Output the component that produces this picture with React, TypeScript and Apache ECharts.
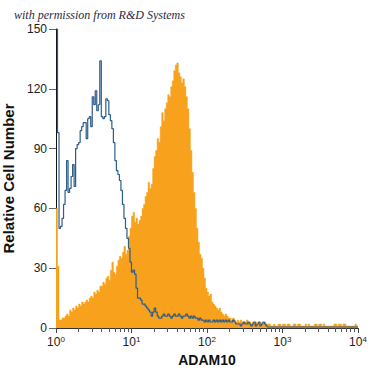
import React, { useEffect, useRef } from "react";
import * as echarts from "echarts";

// Histogram bins: log10(fluorescence) from 0 to 4, bin width 0.02 decades (200 bins)
const BIN_WIDTH = 0.02;

// ADAM10 stained cells (orange filled histogram), counts per bin
const adam10Counts = [
  60, 31, 4, 4, 5, 5, 6, 7, 6, 9,
  8, 10, 9, 11, 10, 12, 11, 13, 12, 13,
  14, 13, 15, 16, 15, 18, 17, 19, 18, 21,
  21, 23, 22, 25, 26, 24, 29, 33, 28, 27,
  31, 34, 36, 35, 38, 41, 37, 39, 46, 50,
  56, 58, 53, 55, 52, 54, 56, 60, 62, 66,
  68, 73, 70, 72, 80, 86, 89, 95, 93, 101,
  108, 104, 110, 113, 117, 116, 121, 124, 129, 132,
  133, 128, 126, 123, 125, 121, 116, 110, 100, 89,
  78, 68, 60, 50, 43, 37, 35, 30, 25, 20,
  18, 16, 17, 13, 12, 11, 10, 9, 10, 8,
  7, 6, 7, 6, 5, 5, 4, 5, 4, 3,
  4, 3, 4, 3, 3, 3, 4, 3, 3, 2,
  3, 2, 3, 2, 2, 3, 2, 2, 3, 2,
  2, 2, 1, 1, 2, 1, 1, 2, 2, 1,
  2, 2, 1, 2, 2, 1, 1, 2, 2, 1,
  2, 2, 1, 1, 1, 2, 1, 2, 1, 1,
  1, 2, 2, 1, 2, 2, 1, 2, 1, 1,
  1, 1, 1, 1, 2, 2, 1, 2, 2, 1,
  2, 2, 1, 1, 1, 1, 1, 1, 2, 1,
];

// Isotype control (blue outline histogram), counts per bin
const controlCounts = [
  150, 98, 50, 51, 55, 62, 69, 84, 68, 70,
  76, 82, 71, 90, 92, 93, 99, 101, 103, 103,
  95, 105, 106, 101, 116, 112, 119, 109, 112, 134,
  106, 105, 106, 115, 114, 107, 104, 100, 93, 84,
  79, 77, 74, 69, 62, 55, 50, 45, 40, 33,
  28, 29, 27, 20, 15, 15, 14, 12, 12, 11,
  10, 9, 8, 6, 8, 10, 8, 6, 5, 5,
  6, 7, 6, 6, 7, 6, 5, 6, 7, 6,
  6, 7, 6, 5, 6, 6, 7, 6, 5, 6,
  5, 6, 5, 5, 4, 5, 4, 4, 3, 4,
  3, 4, 3, 3, 4, 3, 4, 3, 4, 3,
  4, 3, 4, 3, 4, 3, 3, 4, 3, 2,
  2, 2, 1, 2, 3, 2, 2, 3, 2, 1,
  2, 3, 1, 2, 3, 1, 2, 3, 2, 1,
  0.5, 0.5, 0.5, 0.5, 0.5, 0.5, 0.5, 0.5, 0.5, 0.5,
  0.5, 0.5, 0.5, 0.5, 0.5, 0.5, 0.5, 0.5, 0.5, 0.5,
  0.5, 0.5, 0.5, 0.5, 0.5, 0.5, 0.5, 0.5, 0.5, 0.5,
  0.5, 0.5, 0.5, 0.5, 0.5, 0.5, 0.5, 0.5, 0.5, 0.5,
  0.5, 0.5, 0.5, 0.5, 0.5, 0.5, 0.5, 0.5, 0.5, 0.5,
  0.5, 0.5, 0.5, 0.5, 0.5, 0.5, 0.5, 0.5, 0.5, 0.5,
];

const DECADE_EXPONENTS = [0, 1, 2, 3, 4];
const MINOR_MULTIPLIERS = [2, 3, 4, 5, 6, 7, 8, 9];
const Y_MAX = 150;
const Y_INTERVAL = 30;

const TITLE = "with permission from R&D Systems";
const X_NAME = "ADAM10";
const Y_NAME = "Relative Cell Number";

const NARROW = "'Liberation Sans Narrow', 'Liberation Sans', Arial, sans-serif";

function toSteps(counts: number[]) {
  const pts = counts.map((v, i) => [i * BIN_WIDTH, v]);
  pts.push([counts.length * BIN_WIDTH, counts[counts.length - 1]]);
  return pts;
}

export default function App() {
  const ref = useRef<HTMLDivElement>(null);
  useEffect(() => {
    if (!ref.current) return;
    const chart = echarts.init(ref.current, null, { renderer: "svg" });
    const minorTicks: number[] = [];
    DECADE_EXPONENTS.slice(0, -1).forEach((d) =>
      MINOR_MULTIPLIERS.forEach((k) => minorTicks.push(d + Math.log10(k)))
    );
    const xMax = DECADE_EXPONENTS[DECADE_EXPONENTS.length - 1];
    chart.setOption({
      animation: false,
      backgroundColor: "#ffffff",
      title: {
        text: TITLE,
        left: 9,
        top: 3,
        textStyle: {
          fontFamily: "'Liberation Serif', 'DejaVu Serif', serif",
          fontStyle: "italic",
          fontWeight: "normal",
          fontSize: 12,
          lineHeight: 14,
          color: "#1e2a48",
        },
      },
      grid: { left: 56, right: 17, top: 29, bottom: 47, outerBoundsMode: "none", containLabel: false },
      xAxis: [
        {
          type: "value",
          min: 0,
          max: xMax,
          interval: 1,
          position: "bottom",
          axisLine: { show: true, lineStyle: { color: "#333", width: 1 } },
          axisTick: { show: true, length: 5, lineStyle: { color: "#444" } },
          splitLine: { show: false },
          axisLabel: {
            margin: 7,
            formatter: (v: number) => `{b|10}{s|${v}}`,
            rich: {
              b: { fontSize: 12, fontFamily: NARROW, color: "#222", lineHeight: 14 },
              s: { fontSize: 8, fontFamily: NARROW, color: "#222", lineHeight: 14, verticalAlign: "top" },
            },
          },
          name: X_NAME,
          nameLocation: "middle",
          nameGap: 23,
          nameTextStyle: { fontFamily: NARROW, fontWeight: "bold", fontSize: 14, color: "#111" },
        },
        {
          type: "value",
          min: 0,
          max: xMax,
          position: "bottom",
          axisLine: { show: false },
          axisLabel: { show: false },
          splitLine: { show: false },
          axisTick: { show: true, length: 4, customValues: minorTicks, lineStyle: { color: "#555" } },
        },
      ],
      yAxis: {
        type: "value",
        min: 0,
        max: Y_MAX,
        interval: Y_INTERVAL,
        axisLine: { show: true, lineStyle: { color: "#111", width: 1 } },
        axisTick: { show: true, length: 7, lineStyle: { color: "#666" } },
        splitLine: { show: false },
        axisLabel: { margin: 9, fontSize: 12, fontFamily: NARROW, color: "#222" },
        name: Y_NAME,
        nameLocation: "middle",
        nameGap: 34,
        nameTextStyle: { fontFamily: NARROW, fontWeight: "bold", fontSize: 15, color: "#111" },
      },
      series: [
        {
          type: "line",
          name: "ADAM10",
          xAxisIndex: 0,
          step: "end",
          showSymbol: false,
          symbol: "none",
          data: toSteps(adam10Counts),
          lineStyle: { width: 0.5, color: "#f5a01d" },
          areaStyle: { color: "#f7a11c", opacity: 1 },
          z: 2,
        },
        {
          type: "line",
          name: "Control",
          xAxisIndex: 0,
          step: "end",
          showSymbol: false,
          symbol: "none",
          data: toSteps(controlCounts),
          lineStyle: { width: 1.2, color: "#2d5d8b" },
          z: 3,
        },
      ],
    });
    return () => chart.dispose();
  }, []);
  return <div ref={ref} style={{ position: "fixed", left: 0, top: 0, width: 375, height: 375 }} />;
}
